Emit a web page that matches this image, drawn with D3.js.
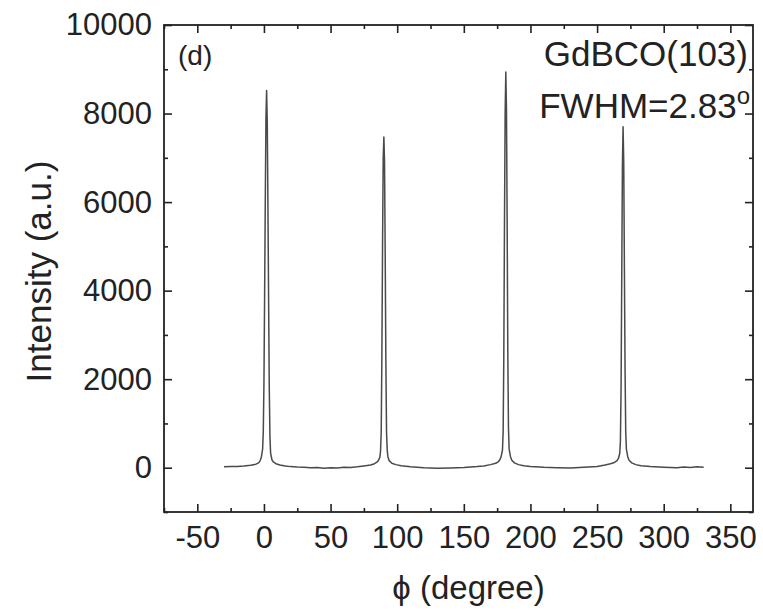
<!DOCTYPE html>
<html>
<head>
<meta charset="utf-8">
<script src="https://cdn.jsdelivr.net/npm/d3@7"></script>
<style>
  body { margin: 0; background: #fff; }
  svg { display: block; }
  text { font-family: 'Liberation Sans', Arial, sans-serif; fill: #222; }
</style>
</head>
<body>
<svg id="chart" width="763" height="613"></svg>
<script>
// phi-scan of GdBCO(103)
const phi = [
  -30, -25, -20, -15, -10, -6, -4, -3, -2, -1, -0.5, 0, 0.5, 1, 1.5, 2, 2.5, 3, 3.5, 4, 4.5, 5, 6, 7, 9, 12, 16, 20, 25, 30,
  35, 40, 45, 50, 55, 60, 65, 70, 75, 80, 83, 85, 86, 87, 87.5, 88, 88.5, 89, 89.5, 90, 90.5, 91, 91.5, 92, 92.5, 93, 94, 96, 99, 103,
  110, 120, 130, 140, 150, 160, 165, 170, 174, 176, 177, 178, 179, 179.5, 180, 180.5, 181, 181.5, 182, 182.5, 183, 183.5, 184, 185, 186, 188, 191, 195, 200,
  210, 220, 230, 240, 250, 256, 260, 263, 265, 266, 267, 267.5, 268, 268.5, 269, 269.5, 270, 270.5, 271, 271.5, 272, 273, 274, 276, 279, 283,
  290, 300, 310, 315, 320, 325, 330
]
const intensity = [
  20, 25, 30, 40, 55, 80, 110, 150, 230, 420, 800, 1900, 3900, 6000, 7900, 8520, 7800, 5900, 3800, 1800, 700, 330, 180, 130, 90, 60, 40, 25, 15, 10,
  0, 5, -10, 0, -5, 10, 5, 20, 40, 60, 90, 130, 170, 240, 380, 800, 2500, 5000, 7000, 7470, 6900, 4800, 2400, 800, 400, 250, 160, 100, 70, 45,
  20, 0, -10, -5, 5, 25, 40, 70, 100, 140, 180, 250, 400, 800, 2500, 5500, 8000, 8940, 8100, 5600, 2600, 900, 420, 250, 170, 110, 70, 45, 30,
  10, 0, -5, 10, 30, 60, 90, 120, 160, 210, 320, 600, 1800, 4300, 6800, 7700, 6900, 4500, 2200, 800, 420, 250, 170, 110, 70, 45,
  25, 10, 0, 15, 5, 20, 10
]

const xTicks = [-50, 0, 50, 100, 150, 200, 250, 300, 350]
const xMinor = [-75, -25, 25, 75, 125, 175, 225, 275, 325]
const yTicks = [0, 2000, 4000, 6000, 8000, 10000]
const yMinor = [-1000, 1000, 3000, 5000, 7000, 9000]

const margin = { top: 25, right: 10, bottom: 101, left: 164 }
const width = 763, height = 613
const plotW = width - margin.left - margin.right
const plotH = height - margin.top - margin.bottom

const x = d3.scaleLinear().domain([-75, 367]).range([0, plotW])
const y = d3.scaleLinear().domain([-1000, 10000]).range([plotH, 0])

const svg = d3.select('#chart')
const g = svg.append('g')
  .attr('transform', `translate(${margin.left},${margin.top})`)

const data = phi.map((p, i) => ({ phi: p, value: intensity[i] }))

// data line
g.append('path')
  .datum(data)
  .attr('fill', 'none')
  .attr('stroke', '#4a4a4a')
  .attr('stroke-width', 1.5)
  .attr('stroke-linejoin', 'round')
  .attr('d', d3.line().x((d) => x(d.phi)).y((d) => y(d.value)))

// axes, ticks pointing inward on all four sides
function styleAxis(sel) {
  sel.select('.domain').remove()
  sel.selectAll('line').attr('stroke', '#222').attr('stroke-width', 1.6)
}

g.append('g')
  .attr('transform', `translate(0,${plotH})`)
  .call(d3.axisBottom(x).tickValues(xTicks).tickSize(-8).tickPadding(14).tickFormat(String))
  .call(styleAxis)
  .selectAll('text').attr('font-size', 31).attr('fill', '#222')
g.append('g')
  .attr('transform', `translate(0,${plotH})`)
  .call(d3.axisBottom(x).tickValues(xMinor).tickSize(-4).tickFormat(''))
  .call(styleAxis)
g.append('g')
  .call(d3.axisTop(x).tickValues(xTicks).tickSize(-8).tickFormat(''))
  .call(styleAxis)
g.append('g')
  .call(d3.axisTop(x).tickValues(xMinor).tickSize(-4).tickFormat(''))
  .call(styleAxis)

g.append('g')
  .call(d3.axisLeft(y).tickValues(yTicks).tickSize(-8).tickPadding(12).tickFormat(String))
  .call(styleAxis)
  .selectAll('text').attr('font-size', 31).attr('fill', '#222')
g.append('g')
  .call(d3.axisLeft(y).tickValues(yMinor).tickSize(-4).tickFormat(''))
  .call(styleAxis)
g.append('g')
  .attr('transform', `translate(${plotW},0)`)
  .call(d3.axisRight(y).tickValues(yTicks).tickSize(-8).tickFormat(''))
  .call(styleAxis)
g.append('g')
  .attr('transform', `translate(${plotW},0)`)
  .call(d3.axisRight(y).tickValues(yMinor).tickSize(-4).tickFormat(''))
  .call(styleAxis)

// frame
g.append('rect')
  .attr('width', plotW)
  .attr('height', plotH)
  .attr('fill', 'none')
  .attr('stroke', '#222')
  .attr('stroke-width', 1.8)

// axis titles
svg.append('text')
  .attr('x', margin.left + plotW / 2 + 10)
  .attr('y', 599)
  .attr('text-anchor', 'middle')
  .attr('font-size', 33)
  .text('ϕ (degree)')

svg.append('text')
  .attr('transform', `translate(51,${margin.top + plotH / 2 + 3}) rotate(-90)`)
  .attr('text-anchor', 'middle')
  .attr('font-size', 35)
  .text('Intensity (a.u.)')

// annotations
g.append('text')
  .attr('x', 14)
  .attr('y', 40)
  .attr('font-size', 28)
  .text('(d)')

g.append('text')
  .attr('x', plotW - 5)
  .attr('y', 41)
  .attr('text-anchor', 'end')
  .attr('font-size', 35)
  .text('GdBCO(103)')

const fwhm = g.append('text')
  .attr('x', plotW - 3)
  .attr('y', 93)
  .attr('text-anchor', 'end')
  .attr('font-size', 35)
fwhm.append('tspan').text('FWHM=2.83')
fwhm.append('tspan').attr('dy', -14).attr('font-size', 24).text('o')
</script>
</body>
</html>
